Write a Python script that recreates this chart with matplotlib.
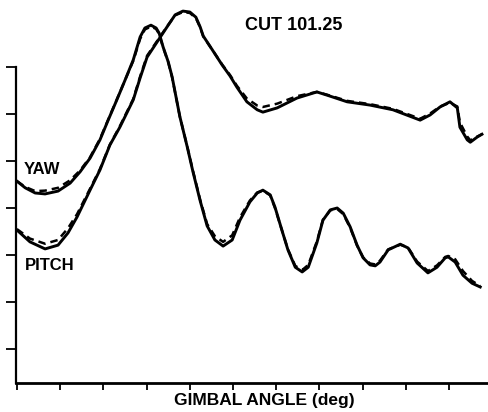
import numpy as np
import matplotlib
matplotlib.use("Agg")
from matplotlib import pyplot as plt

# gimbal angle positions (tick spacing = 1 division)
yaw_x = [0.0, 0.19, 0.42, 0.65, 0.95, 1.23, 1.46, 1.69, 1.92, 2.11, 2.31, 2.50,
         2.69, 2.85, 2.96, 3.10, 3.22, 3.29, 3.38, 3.50, 3.59, 3.77, 3.94, 4.07,
         4.24, 4.40, 4.58, 4.77, 4.98, 5.16, 5.39, 5.56, 5.69, 5.86, 5.97, 6.13,
         6.27, 6.44, 6.60, 6.74, 6.94, 7.08, 7.25, 7.41, 7.55, 7.71, 7.87, 8.01,
         8.17, 8.29, 8.40, 8.59, 8.87, 9.05, 9.26, 9.51, 9.72, 9.91, 9.98,
         10.14, 10.32, 10.53, 10.72]
yaw_solid = [4.57, 4.43, 4.32, 4.30, 4.36, 4.53, 4.77, 5.06, 5.45, 5.87, 6.30,
             6.72, 7.15, 7.64, 7.83, 7.89, 7.83, 7.72, 7.43, 7.11, 6.79, 5.94,
             5.30, 4.78, 4.15, 3.62, 3.32, 3.19, 3.32, 3.74, 4.13, 4.32, 4.38,
             4.28, 4.02, 3.53, 3.11, 2.74, 2.64, 2.74, 3.26, 3.74, 3.96, 4.00,
             3.89, 3.60, 3.21, 2.94, 2.79, 2.77, 2.85, 3.11, 3.23, 3.15, 2.83,
             2.62, 2.74, 2.94, 2.96, 2.85, 2.57, 2.40, 2.32]
yaw_dashed = [4.57, 4.45, 4.36, 4.37, 4.43, 4.59, 4.80, 5.08, 5.47, 5.88, 6.31,
              6.72, 7.13, 7.60, 7.80, 7.86, 7.81, 7.70, 7.42, 7.10, 6.78, 5.94,
              5.31, 4.80, 4.17, 3.66, 3.40, 3.28, 3.42, 3.80, 4.16, 4.33, 4.37,
              4.27, 4.00, 3.53, 3.12, 2.77, 2.68, 2.79, 3.29, 3.75, 3.95, 3.98,
              3.87, 3.58, 3.20, 2.95, 2.82, 2.80, 2.88, 3.12, 3.22, 3.16, 2.86,
              2.66, 2.78, 2.96, 2.98, 2.91, 2.66, 2.45, 2.34]

pitch_x = [0.0, 0.30, 0.65, 0.95, 1.18, 1.39, 1.69, 1.92, 2.15, 2.38, 2.69,
           2.85, 3.01, 3.24, 3.47, 3.66, 3.84, 4.00, 4.14, 4.24, 4.31, 4.51,
           4.75, 4.93, 5.09, 5.32, 5.56, 5.69, 6.02, 6.48, 6.94, 7.18, 7.64,
           8.17, 8.70, 9.33, 9.56, 9.79, 10.02, 10.19, 10.25, 10.42, 10.49,
           10.65, 10.76]
pitch_solid = [3.53, 3.28, 3.13, 3.21, 3.47, 3.81, 4.38, 4.81, 5.34, 5.72,
               6.30, 6.77, 7.21, 7.53, 7.85, 8.11, 8.19, 8.17, 8.06, 7.85,
               7.66, 7.38, 7.04, 6.81, 6.57, 6.26, 6.09, 6.04, 6.13, 6.34,
               6.47, 6.40, 6.26, 6.19, 6.09, 5.87, 5.98, 6.15, 6.26, 6.13,
               5.72, 5.45, 5.40, 5.51, 5.57]
pitch_dashed = [3.55, 3.35, 3.24, 3.32, 3.57, 3.87, 4.41, 4.83, 5.35, 5.74,
                6.32, 6.80, 7.24, 7.55, 7.86, 8.10, 8.17, 8.15, 8.04, 7.84,
                7.65, 7.38, 7.05, 6.83, 6.60, 6.33, 6.18, 6.15, 6.22, 6.38,
                6.47, 6.41, 6.28, 6.21, 6.11, 5.90, 6.01, 6.16, 6.24, 6.16,
                5.82, 5.52, 5.44, 5.52, 5.57]

x_ticks = list(range(11))
y_ticks = list(range(1, 8))

plt.rcParams["font.family"] = ["Liberation Sans", "DejaVu Sans"]

fig = plt.figure(figsize=(4.88, 4.12), dpi=100)
ax = fig.add_axes([16 / 488, 29 / 412, 472 / 488, 383 / 412])

ax.plot(yaw_x, yaw_solid, color="black", lw=2.1, solid_joinstyle="round")
ax.plot(yaw_x, yaw_dashed, color="black", lw=1.8, ls=(0, (3, 2)))
ax.plot(pitch_x, pitch_solid, color="black", lw=2.1, solid_joinstyle="round")
ax.plot(pitch_x, pitch_dashed, color="black", lw=1.8, ls=(0, (3, 2)))

ax.set_xlim(-0.023, 10.9)
ax.set_ylim(0.277, 8.426)
ax.set_xticks(x_ticks)
ax.set_yticks(y_ticks)
ax.set_xticklabels([])
ax.set_yticklabels([])
ax.tick_params(axis="both", direction="out", width=1.3, color="black")
ax.tick_params(axis="y", length=7)
ax.tick_params(axis="x", length=5)

for side in ("top", "right"):
    ax.spines[side].set_visible(False)
ax.spines["left"].set_linewidth(1.6)
ax.spines["bottom"].set_linewidth(2.0)
ax.spines["left"].set_bounds(0.277, 7)

ax.text(6.41, 7.89, "CUT 101.25", fontsize=13, fontweight="bold",
        ha="center", va="center")
ax.text(0.58, 4.83, "YAW", fontsize=12, fontweight="bold",
        ha="center", va="center")
ax.text(0.76, 2.77, "PITCH", fontsize=12, fontweight="bold",
        ha="center", va="center")
fig.text(264 / 488, 1 - 401 / 412, "GIMBAL ANGLE (deg)", fontsize=12.5,
         fontweight="bold", ha="center", va="center")

fig.savefig("out.png", dpi=100)
